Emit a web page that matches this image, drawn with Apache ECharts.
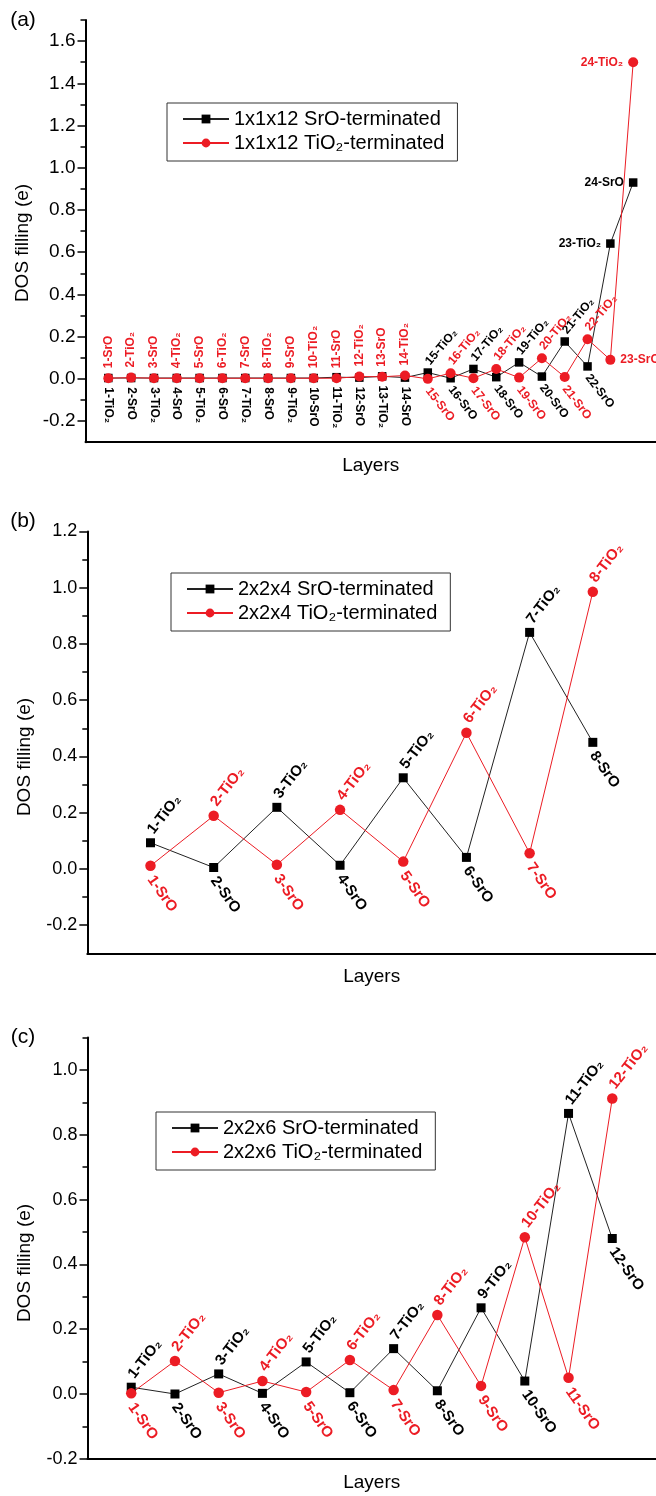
<!DOCTYPE html>
<html><head><meta charset="utf-8">
<script src="https://cdn.jsdelivr.net/npm/echarts@6/dist/echarts.min.js"></script>
<style>html,body{margin:0;padding:0;background:#fff}#c{width:656px;height:1496px}</style>
</head><body><div id="c"></div>
<script>
const FONT = '"Liberation Sans", Arial, sans-serif';
const BLACK = '#000000';
const RED = '#ec1c24';

// ---------- Panel (a): 1x1x12, 24 layers ----------
const aSrOName = '1x1x12 SrO-terminated';
const aTiO2Name = '1x1x12 TiO₂-terminated';
const aSrOLabels = ['1-TiO₂','2-SrO','3-TiO₂','4-SrO','5-TiO₂','6-SrO','7-TiO₂','8-SrO','9-TiO₂','10-SrO','11-TiO₂','12-SrO','13-TiO₂','14-SrO','15-TiO₂','16-SrO','17-TiO₂','18-SrO','19-TiO₂','20-SrO','21-TiO₂','22-SrO','23-TiO₂','24-SrO'];
const aTiO2Labels = ['1-SrO','2-TiO₂','3-SrO','4-TiO₂','5-SrO','6-TiO₂','7-SrO','8-TiO₂','9-SrO','10-TiO₂','11-SrO','12-TiO₂','13-SrO','14-TiO₂','15-SrO','16-TiO₂','17-SrO','18-TiO₂','19-SrO','20-TiO₂','21-SrO','22-TiO₂','23-SrO','24-TiO₂'];
const aSrOValues = [0.004,0.004,0.004,0.004,0.004,0.004,0.004,0.004,0.004,0.004,0.008,0.006,0.012,0.006,0.030,0.003,0.047,0.008,0.078,0.011,0.177,0.059,0.641,0.930];
const aTiO2Values = [0.003,0.006,0.003,0.003,0.003,0.003,0.003,0.003,0.003,0.003,0.003,0.011,0.010,0.016,0.000,0.027,0.003,0.047,0.006,0.098,0.009,0.188,0.090,1.500];
const aYTicks = [-0.2,0,0.2,0.4,0.6,0.8,1.0,1.2,1.4,1.6];
const aYMinor = [-0.1,0.1,0.3,0.5,0.7,0.9,1.1,1.3,1.5,1.7];

// ---------- Panel (b): 2x2x4, 8 layers ----------
const bSrOName = '2x2x4 SrO-terminated';
const bTiO2Name = '2x2x4 TiO₂-terminated';
const bSrOLabels = ['1-TiO₂','2-SrO','3-TiO₂','4-SrO','5-TiO₂','6-SrO','7-TiO₂','8-SrO'];
const bTiO2Labels = ['1-SrO','2-TiO₂','3-SrO','4-TiO₂','5-SrO','6-TiO₂','7-SrO','8-TiO₂'];
const bSrOValues = [0.093,0.005,0.219,0.013,0.324,0.041,0.841,0.450];
const bTiO2Values = [0.011,0.189,0.015,0.210,0.026,0.484,0.056,0.985];
const bYTicks = [-0.2,0,0.2,0.4,0.6,0.8,1.0,1.2];
const bYMinor = [-0.1,0.1,0.3,0.5,0.7,0.9,1.1];

// ---------- Panel (c): 2x2x6, 12 layers ----------
const cSrOName = '2x2x6 SrO-terminated';
const cTiO2Name = '2x2x6 TiO₂-terminated';
const cSrOLabels = ['1-TiO₂','2-SrO','3-TiO₂','4-SrO','5-TiO₂','6-SrO','7-TiO₂','8-SrO','9-TiO₂','10-SrO','11-TiO₂','12-SrO'];
const cTiO2Labels = ['1-SrO','2-TiO₂','3-SrO','4-TiO₂','5-SrO','6-TiO₂','7-SrO','8-TiO₂','9-SrO','10-TiO₂','11-SrO','12-TiO₂'];
const cSrOValues = [0.021,0.000,0.062,0.002,0.099,0.004,0.140,0.010,0.266,0.040,0.866,0.480];
const cTiO2Values = [0.002,0.102,0.004,0.040,0.006,0.105,0.012,0.244,0.025,0.484,0.050,0.912];
const cYTicks = [-0.2,0,0.2,0.4,0.6,0.8,1.0];
const cYMinor = [-0.1,0.1,0.3,0.5,0.7,0.9,1.1];

const xAxisName = 'Layers';
const yAxisName = 'DOS filling (e)';
const panelTags = ['(a)','(b)','(c)'];

// ---------- label placements ----------
const UPV = {position:'top', rotate:90, align:'left', verticalAlign:'middle', distance:5};
const DOWNV = {position:'bottom', rotate:-90, align:'left', verticalAlign:'middle', distance:5};
const UPS = {position:'top', rotate:50, align:'left', verticalAlign:'middle', distance:5};
const DOWNS = {position:'bottom', rotate:-52, align:'left', verticalAlign:'middle', distance:5};
const UPS2 = {position:'top', rotate:52, align:'left', verticalAlign:'middle', distance:6};
const DOWNS2 = {position:'bottom', rotate:-55, align:'left', verticalAlign:'middle', distance:6};
const LEFT = {position:'left', rotate:0, align:'right', verticalAlign:'middle', distance:5};
const RIGHT = {position:'right', rotate:0, align:'left', verticalAlign:'middle', distance:5};

function placeA(isRed){
  return (i, lab) => {
    const n = i + 1;
    if (n <= 14) return isRed ? UPV : DOWNV;
    if (isRed && n === 23) return RIGHT;
    if (n === 24 || (!isRed && n === 23)) return LEFT;
    return lab.indexOf('TiO') >= 0 ? UPS : DOWNS;
  };
}
function placeBC(i, lab){ return lab.indexOf('TiO') >= 0 ? UPS2 : DOWNS2; }

function mkSeries(name, gi, vals, labels, color, symbol, size, place, fs){
  return {
    type:'line', name, xAxisIndex: gi, yAxisIndex: gi*2,
    data: vals.map((v,i)=>({value:[i+1, v], name: labels[i], label: place(i, labels[i])})),
    symbol, symbolSize: size, showSymbol: true,
    lineStyle:{color: color === BLACK ? '#222' : color, width:1},
    itemStyle:{color},
    label:{show:true, formatter:'{b}', color, fontSize:fs, fontWeight:'bold', fontFamily:FONT},
    emphasis:{disabled:true}, animation:false
  };
}

const panels = [
  {top:20, height:422.2, left:85.5, xmax:25, ymin:-0.3, ymax:1.7, ticks:aYTicks, minor:aYMinor, fs:19},
  {top:531.4, height:421.9, left:87.3, xmax:9, ymin:-0.3, ymax:1.2, ticks:bYTicks, minor:bYMinor, fs:18},
  {top:1037.6, height:421.2, left:87.5, xmax:13, ymin:-0.2, ymax:1.1, ticks:cYTicks, minor:cYMinor, fs:18}
];

const grid = panels.map(p => ({left:p.left, top:p.top, height:p.height, right:0, containLabel:false}));
const xAxis = panels.map((p,k) => ({
  gridIndex:k, type:'value', min:0, max:p.xmax,
  axisLine:{show:true, onZero:false, lineStyle:{color:'#000', width:2}},
  axisTick:{show:false}, axisLabel:{show:false}, splitLine:{show:false},
  name:xAxisName, nameLocation:'middle', nameGap:14,
  nameTextStyle:{fontSize:19, fontFamily:FONT, color:'#000', verticalAlign:'top'}
}));
const yAxis = [];
panels.forEach((p,k) => {
  yAxis.push({
    gridIndex:k, type:'value', min:p.ymin, max:p.ymax, position:'left',
    axisLine:{show:true, onZero:false, lineStyle:{color:'#000', width:2}},
    axisTick:{show:true, length:8, customValues:p.ticks, lineStyle:{color:'#000', width:1.5}},
    axisLabel:{show:true, customValues:p.ticks, formatter:v=>Number(v).toFixed(1), margin:10,
      fontSize:p.fs, fontFamily:FONT, color:'#000'},
    splitLine:{show:false}
  });
  yAxis.push({
    gridIndex:k, type:'value', min:p.ymin, max:p.ymax, position:'left', offset:0,
    axisLine:{show:false, onZero:false},
    axisTick:{show:true, length:5, customValues:p.minor, lineStyle:{color:'#000', width:1.5}},
    axisLabel:{show:false}, splitLine:{show:false}
  });
});

const series = [
  mkSeries(aSrOName, 0, aSrOValues, aSrOLabels, BLACK, 'rect', 8.5, placeA(false), 12),
  mkSeries(aTiO2Name, 0, aTiO2Values, aTiO2Labels, RED, 'circle', 10, placeA(true), 12),
  mkSeries(bSrOName, 1, bSrOValues, bSrOLabels, BLACK, 'rect', 9, placeBC, 15),
  mkSeries(bTiO2Name, 1, bTiO2Values, bTiO2Labels, RED, 'circle', 10.5, placeBC, 15),
  mkSeries(cSrOName, 2, cSrOValues, cSrOLabels, BLACK, 'rect', 9, placeBC, 15),
  mkSeries(cTiO2Name, 2, cTiO2Values, cTiO2Labels, RED, 'circle', 10.5, placeBC, 15)
];

function mkLegend(names, left, top){
  return {
    data:names, left, top, orient:'vertical', padding:[6,13,8,15],
    itemWidth:46, itemHeight:11, itemGap:4, borderColor:'#333', borderWidth:1,
    backgroundColor:'#fff', selectedMode:false,
    textStyle:{fontSize:20, fontFamily:FONT, color:'#000', lineHeight:20}
  };
}
const legend = [
  mkLegend([aSrOName, aTiO2Name], 167, 103),
  mkLegend([bSrOName, bTiO2Name], 171, 573),
  mkLegend([cSrOName, cTiO2Name], 156, 1112)
];

const tagPos = [[23,20],[23,521],[23,1037]];
const yNamePos = [[23,243],[25,757],[25,1263]];
const graphic = [];
panelTags.forEach((t,k) => {
  graphic.push({type:'text', x:tagPos[k][0], y:tagPos[k][1],
    style:{text:t, fontSize:21, fontFamily:FONT, fill:'#000', align:'center', verticalAlign:'middle'}});
  graphic.push({type:'text', x:yNamePos[k][0], y:yNamePos[k][1], rotation:Math.PI/2,
    style:{text:yAxisName, fontSize:19, fontFamily:FONT, fill:'#000', align:'center', verticalAlign:'middle'}});
});

const chart = echarts.init(document.getElementById('c'), null, {renderer:'canvas'});
chart.setOption({animation:false, backgroundColor:'#fff', grid, xAxis, yAxis, series, legend, graphic});
</script></body></html>
